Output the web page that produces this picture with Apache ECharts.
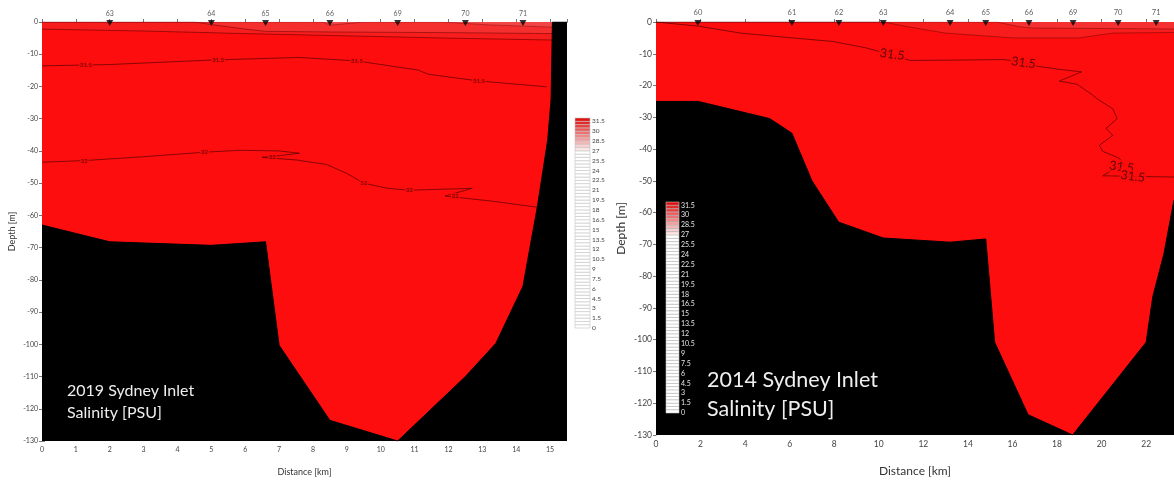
<!DOCTYPE html>
<html><head><meta charset="utf-8">
<script src="https://cdn.jsdelivr.net/npm/echarts@6/dist/echarts.min.js"></script>
<style>html,body{margin:0;padding:0;background:#fff}#c{width:1174px;height:482px}</style>
</head><body><div id="c"></div>
<script>
// ---------- 2019 section (left) ----------
const stations2019 = ['63','64','65','66','69','70','71'];
const stationKm2019 = [2.0, 5.0, 6.6, 8.5, 10.5, 12.5, 14.2];
const surface2019 = [[0,0],[15.5,0]];
const layerA2019 = [[0,-2.2],[3,-2.8],[6,-3.6],[9,-4.3],[12,-5.0],[15.1,-5.6],[15.5,-5.6]];
const layerB2019 = [[0,0],[4.5,0],[5.0,-0.8],[6.0,-2.2],[6.6,-2.9],[8.5,-3.1],[12,-3.3],[15.1,-3.6],[15.5,-3.6]];
const layerC2019 = [[0,0],[8.3,0],[8.5,-1.0],[9.0,-0.5],[9.5,0],[11.8,0],[13.2,-0.9],[15.1,-1.6],[15.5,-1.6]];
const contour315_2019 = [[0,-13.6],[2,-13.2],[5,-11.8],[7.6,-11.0],[9.3,-12.1],[11.1,-14.9],[11.4,-16.2],[12.9,-18.3],[14.9,-20.1]];
const contour32_2019 = [[0,-43.5],[1.25,-43],[3,-41.8],[4.8,-40.4],[5.85,-39.8],[7.0,-40.0],[7.6,-40.7],[7.0,-41.5],[6.5,-42.0],[7.5,-42.8],[8.4,-44.2],[9.0,-47],[9.5,-50],[10.2,-51.6],[10.85,-52.2],[12.7,-51.6],[11.9,-54.0],[13.3,-55.6],[14.65,-57.5]];
const labels315_2019 = [[1.3,-13.3],[5.2,-11.7],[9.3,-12.1],[12.9,-18.3]];
const labels32_2019 = [[1.25,-43],[4.8,-40.4],[6.8,-42.0],[9.5,-50],[10.85,-52.2],[12.2,-54.0]];
const bottom2019 = [[0,-63],[2,-68.2],[5,-69.3],[6.6,-68.2],[7,-100.3],[8.5,-123.6],[10.5,-130],[12.5,-110],[13.4,-99.7],[14.2,-82],[14.63,-57],[14.93,-36.6],[15.03,-24],[15.07,0],[15.5,0]];

// ---------- 2014 section (right) ----------
const stations2014 = ['60','61','62','63','64','65','66','69','70','71'];
const stationKm2014 = [1.88, 6.1, 8.21, 10.2, 13.2, 14.8, 16.74, 18.72, 20.74, 22.45];
const surface2014 = [[0,0],[23.25,0]];
const layerA2014 = [[0,0],[10.2,0],[11.3,-1.5],[13,-3.5],[16,-5.0],[19,-5.0],[20.5,-3.5],[23.25,-3.3]];
const layerB2014 = [[0,0],[15.3,0],[16.3,-1.5],[16.9,-1.9],[19,-2.0],[23.25,-2.2]];
const contour315_2014 = [[0,0],[1.9,-1.3],[3.8,-3.5],[6.1,-5],[7.9,-6.1],[9.4,-8.1],[10.3,-9.8],[11.4,-12.1],[13.5,-12],[15.6,-11.8],[16.4,-12.6],[17.1,-13.9],[18.1,-14.9],[19.1,-15.7],[18.1,-18.6],[18.9,-19.6],[19.6,-23],[19.8,-24.2],[20.5,-27.3],[20.7,-30.4],[20.2,-33.5],[20.5,-35.7],[19.9,-38.8],[20.05,-40.7],[20.8,-42.9],[21.0,-45],[20.5,-46.5],[20.05,-48.4],[21.5,-48.6],[23.25,-48.8]];
const labels315_2014 = [[10.6,-10.2],[16.5,-12.8],[20.9,-45.6],[21.4,-48.6]];
const bottom2014 = [[0,-25],[1.9,-25],[5.1,-30.4],[6.1,-35],[7,-50],[8.2,-63],[10.2,-68],[13.2,-69.3],[14.8,-68.3],[15.2,-100.8],[16.7,-123.6],[18.7,-130],[22,-100.8],[22.3,-86.4],[22.8,-72.9],[23.25,-56]];

// ---------- colour scale (PSU) ----------
const scaleLevels = [0,0.5,1,1.5,2,2.5,3,3.5,4,4.5,5,5.5,6,6.5,7,7.5,8,8.5,9,9.5,10,10.5,11,11.5,12,12.5,13,13.5,14,14.5,15,15.5,16,16.5,17,17.5,18,18.5,19,19.5,20,20.5,21,21.5,22,22.5,23,23.5,24,24.5,25,25.5,26,26.5,27,27.5,28,28.5,29,29.5,30,30.5,31,31.5];

function cbColor(l){
  if (l < 26.5) return '#ffffff';
  const t = Math.min(1, (l - 26.5) / 5.0);
  const r = Math.round(255 + (226 - 255) * t);
  const g = Math.round(255 + (16 - 255) * t);
  const b = Math.round(255 + (16 - 255) * t);
  return 'rgb(' + r + ',' + g + ',' + b + ')';
}

const WATER = '#fd0d0d';
const FONT = 'Lato';

function axisCommon(fs){
  return {
    axisLine: {show: true, lineStyle: {color: '#777', width: 1}},
    axisTick: {show: true, length: 3, lineStyle: {color: '#777'}},
    axisLabel: {fontSize: fs, color: '#444', fontFamily: FONT, margin: 4},
    splitLine: {show: false}
  };
}

function cbRender(params, api){
  const l = api.value(1);
  const p0 = api.coord([0, l]);
  const p1 = api.coord([1, l + 0.5]);
  return {type: 'rect', shape: {x: p0[0], y: p1[1], width: p1[0] - p0[0], height: p0[1] - p1[1]},
          style: {fill: cbColor(l), stroke: '#c4c4c4', lineWidth: 0.6}};
}

const chart = echarts.init(document.getElementById('c'), null, {renderer: 'canvas'});

const option = {
  animation: false,
  backgroundColor: '#ffffff',
  grid: [
    {left: 42, top: 22, width: 525, height: 419},
    {left: 656, top: 22, width: 518, height: 421},
    {left: 575, top: 118, width: 15, height: 210},
    {left: 666, top: 202, width: 13, height: 211}
  ],
  xAxis: [
    Object.assign(axisCommon(7), {type: 'value', gridIndex: 0, min: 0, max: 15.5, interval: 1, position: 'bottom',
      axisLabel: {fontSize: 7, color: '#444', fontFamily: FONT, margin: 5, showMaxLabel: false},
      name: 'Distance [km]', nameLocation: 'middle', nameGap: 27, nameTextStyle: {fontSize: 9, color: '#333', fontFamily: FONT}}),
    Object.assign(axisCommon(7), {type: 'value', gridIndex: 0, min: 0, max: 15.5, interval: 1, position: 'top',
      axisLabel: {show: false}}),
    Object.assign(axisCommon(8.5), {type: 'value', gridIndex: 1, min: 0, max: 23.25, interval: 2, position: 'bottom',
      axisLabel: {fontSize: 8.5, color: '#444', fontFamily: FONT, margin: 5, showMaxLabel: false},
      name: 'Distance [km]', nameLocation: 'middle', nameGap: 30, nameTextStyle: {fontSize: 12, color: '#333', fontFamily: FONT}}),
    Object.assign(axisCommon(8.5), {type: 'value', gridIndex: 1, min: 0, max: 23.25, interval: 2, position: 'top',
      axisLabel: {show: false}}),
    {type: 'value', gridIndex: 2, min: 0, max: 1, show: false},
    {type: 'value', gridIndex: 3, min: 0, max: 1, show: false}
  ],
  yAxis: [
    Object.assign(axisCommon(7), {type: 'value', gridIndex: 0, min: -130, max: 0, interval: 10, position: 'left',
      name: 'Depth [m]', nameLocation: 'middle', nameGap: 25, nameTextStyle: {fontSize: 9, color: '#333', fontFamily: FONT}}),
    Object.assign(axisCommon(7), {type: 'value', gridIndex: 0, min: -130, max: 0, interval: 10, position: 'right',
      axisLabel: {show: false}}),
    Object.assign(axisCommon(8.5), {type: 'value', gridIndex: 1, min: -130, max: 0, interval: 10, position: 'left',
      axisLabel: {fontSize: 8.5, color: '#444', fontFamily: FONT, margin: 4},
      name: 'Depth [m]', nameLocation: 'middle', nameGap: 29, nameTextStyle: {fontSize: 12, color: '#333', fontFamily: FONT}}),
    {type: 'value', gridIndex: 2, min: 0, max: 32, interval: 1.5, position: 'right', z: 20,
      axisLine: {show: false}, axisTick: {show: false}, splitLine: {show: false},
      axisLabel: {fontSize: 6.5, color: '#444', fontFamily: FONT, margin: 2, showMaxLabel: false}},
    {type: 'value', gridIndex: 3, min: 0, max: 32, interval: 1.5, position: 'right', z: 20,
      axisLine: {show: false}, axisTick: {show: false}, splitLine: {show: false},
      axisLabel: {fontSize: 7, color: '#e6e6e6', fontFamily: FONT, margin: 2, showMaxLabel: false}}
  ],
  series: [
    // ----- left -----
    {type: 'line', xAxisIndex: 0, yAxisIndex: 0, data: surface2019, symbol: 'none', z: 1,
      lineStyle: {width: 0}, areaStyle: {color: WATER, opacity: 1, origin: 'start'}},
    {type: 'line', xAxisIndex: 0, yAxisIndex: 0, data: layerA2019, symbol: 'none', z: 2,
      lineStyle: {width: 0.8, color: 'rgba(90,0,0,0.7)'}, areaStyle: {color: '#f81d1d', opacity: 1, origin: 'end'}},
    {type: 'line', xAxisIndex: 0, yAxisIndex: 0, data: layerB2019, symbol: 'none', z: 2,
      lineStyle: {width: 0.8, color: 'rgba(90,0,0,0.6)'}, areaStyle: {color: '#f52e2e', opacity: 1, origin: 'end'}},
    {type: 'line', xAxisIndex: 0, yAxisIndex: 0, data: layerC2019, symbol: 'none', z: 2,
      lineStyle: {width: 0.7, color: 'rgba(90,0,0,0.5)'}, areaStyle: {color: '#f24545', opacity: 1, origin: 'end'}},
    {type: 'line', xAxisIndex: 0, yAxisIndex: 0, data: contour315_2019, symbol: 'none', z: 3,
      lineStyle: {width: 0.8, color: 'rgba(70,0,0,0.8)'}},
    {type: 'line', xAxisIndex: 0, yAxisIndex: 0, data: contour32_2019, symbol: 'none', z: 3,
      lineStyle: {width: 0.8, color: 'rgba(70,0,0,0.8)'}},
    {type: 'scatter', xAxisIndex: 0, yAxisIndex: 0, data: labels315_2019, symbolSize: 0, z: 4,
      label: {show: true, position: 'inside', formatter: '31.5', fontSize: 6, color: '#3a0000', fontFamily: FONT,
        backgroundColor: WATER, padding: [0, 1]}},
    {type: 'scatter', xAxisIndex: 0, yAxisIndex: 0, data: labels32_2019, symbolSize: 0, z: 4,
      label: {show: true, position: 'inside', formatter: '32', fontSize: 6, color: '#3a0000', fontFamily: FONT,
        backgroundColor: WATER, padding: [0, 1]}},
    {type: 'line', xAxisIndex: 0, yAxisIndex: 0, data: bottom2019, symbol: 'none', z: 5,
      lineStyle: {width: 1, color: '#000'}, areaStyle: {color: '#000', opacity: 1, origin: 'start'}},
    {type: 'scatter', xAxisIndex: 0, yAxisIndex: 0, data: stationKm2019.map(k => [k, 0]), z: 6, clip: false,
      symbol: 'triangle', symbolRotate: 180, symbolSize: [7, 6], symbolOffset: [0, 1], itemStyle: {color: '#000'},
      label: {show: true, position: 'top', distance: 3, fontSize: 7, color: '#333', fontFamily: FONT,
        formatter: p => stations2019[p.dataIndex]}},
    // ----- right -----
    {type: 'line', xAxisIndex: 2, yAxisIndex: 2, data: surface2014, symbol: 'none', z: 1,
      lineStyle: {width: 0}, areaStyle: {color: WATER, opacity: 1, origin: 'start'}},
    {type: 'line', xAxisIndex: 2, yAxisIndex: 2, data: layerA2014, symbol: 'none', z: 2,
      lineStyle: {width: 0.8, color: 'rgba(90,0,0,0.55)'}, areaStyle: {color: '#f81d1d', opacity: 1, origin: 'end'}},
    {type: 'line', xAxisIndex: 2, yAxisIndex: 2, data: layerB2014, symbol: 'none', z: 2,
      lineStyle: {width: 0.8, color: 'rgba(90,0,0,0.5)'}, areaStyle: {color: '#f43030', opacity: 1, origin: 'end'}},
    {type: 'line', xAxisIndex: 2, yAxisIndex: 2, data: contour315_2014, symbol: 'none', z: 3,
      lineStyle: {width: 0.8, color: 'rgba(70,0,0,0.8)'}},
    {type: 'scatter', xAxisIndex: 2, yAxisIndex: 2, data: labels315_2014, symbolSize: 0, z: 4,
      label: {show: true, position: 'inside', formatter: '31.5', fontSize: 12.5, color: '#3a0505', fontFamily: FONT,
        rotate: -8, backgroundColor: WATER, padding: [0, 1]}},
    {type: 'line', xAxisIndex: 2, yAxisIndex: 2, data: bottom2014, symbol: 'none', z: 5,
      lineStyle: {width: 1, color: '#000'}, areaStyle: {color: '#000', opacity: 1, origin: 'start'}},
    {type: 'scatter', xAxisIndex: 2, yAxisIndex: 2, data: stationKm2014.map(k => [k, 0]), z: 6, clip: false,
      symbol: 'triangle', symbolRotate: 180, symbolSize: [7, 6], symbolOffset: [0, 1], itemStyle: {color: '#000'},
      label: {show: true, position: 'top', distance: 3, fontSize: 7.5, color: '#333', fontFamily: FONT,
        formatter: p => stations2014[p.dataIndex]}},
    // ----- colour bars -----
    {type: 'custom', xAxisIndex: 4, yAxisIndex: 3, z: 7, renderItem: cbRender,
      data: scaleLevels.map(l => [0.5, l]), encode: {x: 0, y: 1}},
    {type: 'custom', xAxisIndex: 5, yAxisIndex: 4, z: 7, renderItem: cbRender,
      data: scaleLevels.map(l => [0.5, l]), encode: {x: 0, y: 1}}
  ],
  graphic: [
    {type: 'text', left: 67, top: 380, z: 100,
      style: {text: '2019 Sydney Inlet\nSalinity [PSU]', fill: '#eeeeee', font: '16px Lato', lineHeight: 22}},
    {type: 'text', left: 707, top: 366, z: 100,
      style: {text: '2014 Sydney Inlet\nSalinity [PSU]', fill: '#eeeeee', font: '21.5px Lato', lineHeight: 29}}
  ]
};
chart.setOption(option);
</script>
</body></html>
